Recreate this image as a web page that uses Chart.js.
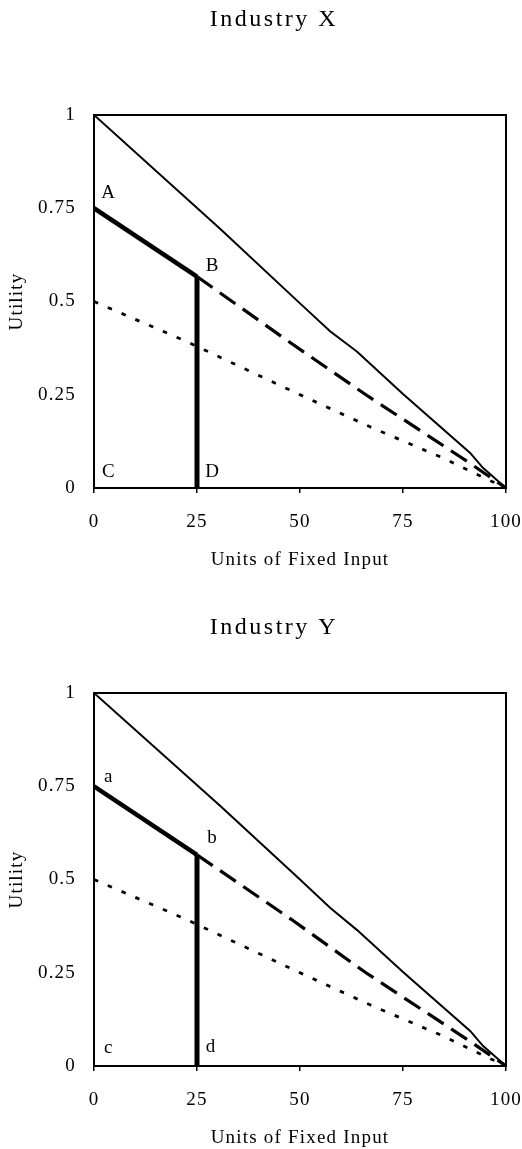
<!DOCTYPE html>
<html><head><meta charset="utf-8">
<script src="https://cdn.jsdelivr.net/npm/chart.js@4.4.0/dist/chart.umd.min.js"></script>
<style>
html,body{margin:0;padding:0;background:#fff;overflow:hidden;width:522px;height:1149px;position:relative;}
.wrap{position:absolute;left:0;width:548px;}
#w1{top:0;height:575px;}
#w2{top:575px;height:574px;}
canvas{display:block;}
</style></head><body>
<div class="wrap" id="w1"><canvas id="c1" width="548" height="575"></canvas></div>
<div class="wrap" id="w2"><canvas id="c2" width="548" height="574"></canvas></div>
<script>
// ---- shared axis data ----
const xTicks = [0, 25, 50, 75, 100];
const yTicks = [0, 0.25, 0.5, 0.75, 1];
const xTickLabels = ['0', '25', '50', '75', '100'];
const yTickLabels = ['0', '0.25', '0.5', '0.75', '1'];
const xAxisTitle = 'Units of Fixed Input';
const yAxisTitle = 'Utility';

// ---- Industry X ----
const titleX = 'Industry X';
const xSolidX = [0, 30.6, 50, 57.3, 63.8, 75, 91.3, 94.4, 100];
const xSolidY = [1, 0.695, 0.495, 0.42, 0.366, 0.252, 0.094, 0.054, 0];
const xThickX = [0, 25];
const xThickY = [0.75, 0.567];
const xVertX = [25, 25];
const xVertY = [0.567, 0];
const xDashX = [25, 47.6, 66, 91.3, 100];
const xDashY = [0.567, 0.39, 0.25, 0.066, 0];
const xDotX = [0, 22, 50, 67, 84.8, 91.7, 100];
const xDotY = [0.5, 0.395, 0.25, 0.164, 0.08, 0.043, 0];
const xLabelText = ['A', 'B', 'C', 'D'];
const xLabelX = [3.6, 28.8, 3.6, 28.8];
const xLabelY = [0.79, 0.594, 0.043, 0.043];

// ---- Industry Y ----
const titleY = 'Industry Y';
const ySolidX = [0, 30.6, 50, 57.3, 63.8, 75, 91.3, 94.4, 100];
const ySolidY = [1, 0.698, 0.5, 0.424, 0.365, 0.252, 0.094, 0.054, 0];
const yThickX = [0, 25];
const yThickY = [0.75, 0.566];
const yVertX = [25, 25];
const yVertY = [0.566, 0];
const yDashX = [25, 48.3, 66, 91.3, 100];
const yDashY = [0.566, 0.39, 0.25, 0.066, 0];
const yDotX = [0, 22, 50, 67, 84.8, 91.7, 100];
const yDotY = [0.5, 0.395, 0.25, 0.164, 0.08, 0.043, 0];
const yLabelText = ['a', 'b', 'c', 'd'];
const yLabelX = [3.6, 28.8, 3.6, 28.4];
const yLabelY = [0.775, 0.611, 0.048, 0.051];

const FONT = 'Liberation Serif, "Times New Roman", serif';

function pts(xs, ys) { return xs.map((x, i) => ({x: x, y: ys[i]})); }

const spacingPlugin = {
  id: 'spacing',
  beforeDraw(chart) { chart.ctx.letterSpacing = '1.2px'; },
  afterLayout(chart) {
    const tb = chart.titleBlock;
    if (tb && !tb._patched) {
      const orig = tb.draw.bind(tb);
      tb.draw = function (a) {
        const c = chart.ctx; const prev = c.letterSpacing;
        c.letterSpacing = '2.5px'; orig(a); c.letterSpacing = prev;
      };
      tb._patched = true;
    }
  }
};

const framePlugin = {
  id: 'frame',
  afterDatasetsDraw(chart) {
    const a = chart.chartArea, c = chart.ctx;
    c.save();
    c.strokeStyle = '#000'; c.lineWidth = 2;
    c.strokeRect(a.left, a.top, a.right - a.left, a.bottom - a.top);
    c.restore();
  }
};

const letterPlugin = {
  id: 'letters',
  afterDraw(chart, args, opts) {
    const c = chart.ctx, sx = chart.scales.x, sy = chart.scales.y;
    c.save();
    c.fillStyle = '#000';
    c.font = '19px ' + FONT;
    c.textAlign = 'center'; c.textBaseline = 'middle';
    opts.text.forEach((t, i) => {
      c.fillText(t, sx.getPixelForValue(opts.xs[i]), sy.getPixelForValue(opts.ys[i]));
    });
    c.restore();
  }
};

function makeChart(id, p, d) {
  const titleLH = 24 * 1.2;
  const axLH = 19 * 1.2;
  return new Chart(document.getElementById(id), {
    type: 'scatter',
    data: {
      datasets: [
        {data: pts(d.solidX, d.solidY), showLine: true, borderColor: '#000', borderWidth: 2, pointRadius: 0, tension: 0},
        {data: pts(d.thickX, d.thickY), showLine: true, borderColor: '#000', borderWidth: 4.5, pointRadius: 0},
        {data: pts(d.vertX, d.vertY), showLine: true, borderColor: '#000', borderWidth: 5, pointRadius: 0},
        {data: pts(d.dashX, d.dashY), showLine: true, borderColor: '#000', borderWidth: 3.2, borderDash: [19, 9], pointRadius: 0},
        {data: pts(d.dotX, d.dotY), showLine: true, borderColor: '#000', borderWidth: 2.8, borderDash: [4.5, 10.5], pointRadius: 0}
      ]
    },
    options: {
      responsive: false,
      animation: false,
      events: [],
      layout: {padding: 0},
      plugins: {
        legend: {display: false},
        tooltip: {enabled: false},
        title: {
          display: true, text: d.title, color: '#000',
          font: {family: FONT, size: 24, weight: 'normal', lineHeight: 1.2},
          padding: {top: p.titleC - titleLH / 2, bottom: p.plotTop - (p.titleC - titleLH / 2) - titleLH}
        },
        letters: {text: d.labText, xs: d.labX, ys: d.labY}
      },
      scales: {
        x: {
          type: 'linear', min: 0, max: 100,
          afterBuildTicks(s) { s.ticks = xTicks.map(v => ({value: v})); },
          afterFit(s) { s.height = p.H - p.plotBottom; },
          ticks: {
            color: '#000', padding: 34 - 5 - axLH / 2,
            font: {family: FONT, size: 19, lineHeight: 1.2},
            callback(v) { const i = xTicks.indexOf(v); return i >= 0 ? xTickLabels[i] : ''; }
          },
          grid: {display: true, drawOnChartArea: false, drawTicks: true, tickLength: 5, color: '#000', lineWidth: 1.5},
          border: {display: false},
          title: {
            display: true, text: xAxisTitle, color: '#000',
            font: {family: FONT, size: 19, lineHeight: 1.2},
            padding: {top: 0, bottom: p.H - p.xTitleC - axLH / 2}
          }
        },
        y: {
          type: 'linear', min: 0, max: 1,
          afterBuildTicks(s) { s.ticks = yTicks.map(v => ({value: v})); },
          afterFit(s) { s.width = 94; },
          ticks: {
            color: '#000', padding: 18,
            font: {family: FONT, size: 19, lineHeight: 1.2},
            callback(v) { const i = yTicks.indexOf(v); return i >= 0 ? yTickLabels[i] : ''; }
          },
          grid: {display: false, drawTicks: false},
          border: {display: false},
          title: {
            display: true, text: yAxisTitle, color: '#000',
            font: {family: FONT, size: 19, lineHeight: 1.2},
            padding: {top: 17 - axLH / 2, bottom: 0}
          }
        },
        y2: {
          type: 'linear', position: 'right', min: 0, max: 1,
          afterFit(s) { s.width = 548 - 506; },
          ticks: {display: false},
          grid: {display: false, drawTicks: false},
          border: {display: false},
          title: {display: false}
        }
      }
    },
    plugins: [spacingPlugin, framePlugin, letterPlugin]
  });
}

makeChart('c1', {H: 575, titleC: 20, plotTop: 115, plotBottom: 488, xTitleC: 560}, {
  title: titleX, solidX: xSolidX, solidY: xSolidY, thickX: xThickX, thickY: xThickY,
  vertX: xVertX, vertY: xVertY, dashX: xDashX, dashY: xDashY, dotX: xDotX, dotY: xDotY,
  labText: xLabelText, labX: xLabelX, labY: xLabelY
});
makeChart('c2', {H: 574, titleC: 53, plotTop: 118, plotBottom: 491, xTitleC: 563}, {
  title: titleY, solidX: ySolidX, solidY: ySolidY, thickX: yThickX, thickY: yThickY,
  vertX: yVertX, vertY: yVertY, dashX: yDashX, dashY: yDashY, dotX: yDotX, dotY: yDotY,
  labText: yLabelText, labX: yLabelX, labY: yLabelY
});
</script>
</body></html>
